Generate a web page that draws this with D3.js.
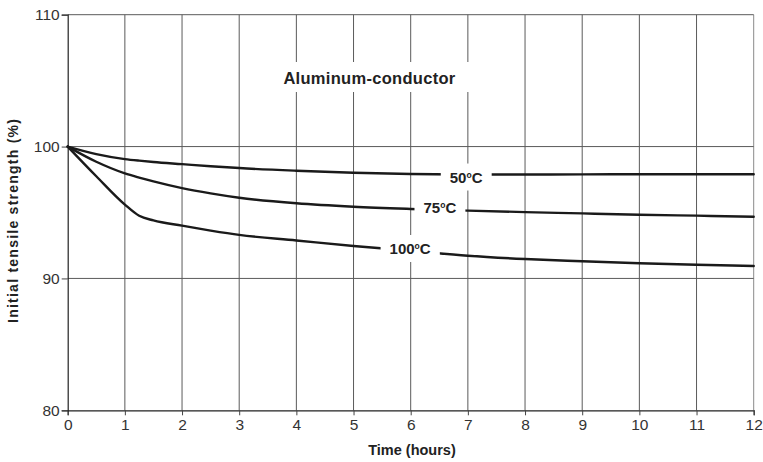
<!DOCTYPE html>
<html>
<head>
<meta charset="utf-8">
<script src="https://cdn.jsdelivr.net/npm/d3@7"></script>
<style>
  html, body { margin: 0; padding: 0; background: #fff; }
  svg { display: block; font-family: "Liberation Sans", Arial, Helvetica, sans-serif; }
</style>
</head>
<body>
<svg id="chart" width="763" height="462"></svg>
<script>
// ---- data ----
const hours = [0, 0.5, 1, 1.25, 1.5, 2, 2.5, 3, 4, 5, 6, 7, 8, 9, 10, 11, 12];
const temp50 = [100, 99.43, 99.05, 98.93, 98.83, 98.67, 98.51, 98.37, 98.17, 98.02, 97.92, 97.88, 97.88, 97.89, 97.9, 97.9, 97.9];
const temp75 = [100, 98.85, 97.97, 97.65, 97.36, 96.85, 96.45, 96.12, 95.7, 95.44, 95.27, 95.14, 95.03, 94.93, 94.83, 94.76, 94.68];
const temp100 = [100, 97.75, 95.6, 94.75, 94.4, 94.0, 93.63, 93.3, 92.88, 92.46, 92.1, 91.72, 91.47, 91.3, 91.15, 91.04, 90.94];
const seriesNames = ["50", "75", "100"];
const xTicks = [0, 1, 2, 3, 4, 5, 6, 7, 8, 9, 10, 11, 12];
const yTicks = [80, 90, 100, 110];
const chartTitle = "Aluminum-conductor";
const xTitle = "Time (hours)";
const yTitle = "Initial tensile strength (%)";
// label anchors (hours, value)
const labelAt = [[6.97, 97.69], [6.51, 95.41], [5.99, 92.27]];

// ---- layout ----
const svg = d3.select("#chart");
const x = d3.scaleLinear().domain([0, 12]).range([67.7, 753.7]);
const y = d3.scaleLinear().domain([80, 110]).range([410.3, 14.7]);
const gridColor = "#5a5a5a";

// vertical gridlines
svg.append("g").selectAll("line").data(xTicks.slice(1)).join("line")
  .attr("x1", d => x(d)).attr("x2", d => x(d))
  .attr("y1", y(110)).attr("y2", y(80))
  .attr("stroke", d => d === 12 ? "#8a8a8a" : gridColor).attr("stroke-width", 1);
// horizontal gridlines
svg.append("g").selectAll("line").data(yTicks.slice(1)).join("line")
  .attr("x1", x(0)).attr("x2", x(12))
  .attr("y1", d => y(d)).attr("y2", d => y(d))
  .attr("stroke", gridColor).attr("stroke-width", 1);

// axes
const xAxis = d3.axisBottom(x).tickValues(xTicks).tickFormat(d3.format("d")).tickSize(5).tickPadding(4);
const gx = svg.append("g").attr("transform", `translate(0,${y(80)})`).call(xAxis);
gx.select(".domain").attr("stroke", "#222").attr("stroke-width", 1.2);
gx.selectAll(".tick line").attr("stroke", "#444");
gx.selectAll("text").attr("font-size", 15.5).attr("fill", "#333")
  .attr("font-family", "Liberation Sans, Arial, sans-serif");

const yAxis = d3.axisLeft(y).tickValues(yTicks).tickFormat(d3.format("d")).tickSize(6).tickPadding(2);
const gy = svg.append("g").attr("transform", `translate(${x(0)},0)`).call(yAxis);
gy.select(".domain").attr("stroke", "#222").attr("stroke-width", 1.2);
gy.selectAll(".tick line").attr("stroke", "#444");
gy.selectAll("text").attr("font-size", 15.5).attr("fill", "#333")
  .attr("font-family", "Liberation Sans, Arial, sans-serif");

// curves
const seriesValues = [temp50, temp75, temp100];
const line = d3.line().x(d => x(d[0])).y(d => y(d[1])).curve(d3.curveMonotoneX);
svg.append("g").selectAll("path").data(seriesValues).join("path")
  .attr("d", vals => line(hours.map((h, i) => [h, vals[i]])))
  .attr("fill", "none").attr("stroke", "#1a1a1a").attr("stroke-width", 2.4)
  .attr("stroke-linecap", "round");

// curve labels with white background boxes
seriesNames.forEach((name, i) => {
  const [lh, lv] = labelAt[i];
  const g = svg.append("g");
  const rect = g.append("rect").attr("fill", "#fff");
  const t = g.append("text")
    .attr("x", x(lh)).attr("y", y(lv) + 5.5)
    .attr("text-anchor", "middle")
    .attr("font-size", 15).attr("font-weight", "bold").attr("fill", "#222");
  t.append("tspan").text(name);
  t.append("tspan").attr("font-size", 8.5).attr("dy", -4.5).text("o");
  t.append("tspan").attr("dy", 4.5).text("C");
  const bb = t.node().getBBox();
  rect.attr("x", bb.x - 9).attr("y", y(lv) - 13.5)
    .attr("width", bb.width + 18).attr("height", 27);
});

// chart title with white box
const tg = svg.append("g");
const trect = tg.append("rect").attr("fill", "#fff");
const tt = tg.append("text").attr("x", 369.5).attr("y", 83.5)
  .attr("text-anchor", "middle").attr("font-size", 16.5).attr("font-weight", "bold")
  .attr("letter-spacing", 0.3).attr("fill", "#222").text(chartTitle);
const tb = tt.node().getBBox();
trect.attr("x", tb.x - 14).attr("y", 62).attr("width", tb.width + 28).attr("height", 30);

// axis titles
svg.append("text").attr("x", 412).attr("y", 455)
  .attr("text-anchor", "middle").attr("font-size", 14.5).attr("font-weight", "bold")
  .attr("fill", "#222").text(xTitle);
svg.append("text").attr("transform", "translate(18,221) rotate(-90)")
  .attr("text-anchor", "middle").attr("font-size", 14).attr("font-weight", "bold")
  .attr("fill", "#222").attr("textLength", 204).attr("lengthAdjust", "spacing").text(yTitle);
</script>
</body>
</html>
